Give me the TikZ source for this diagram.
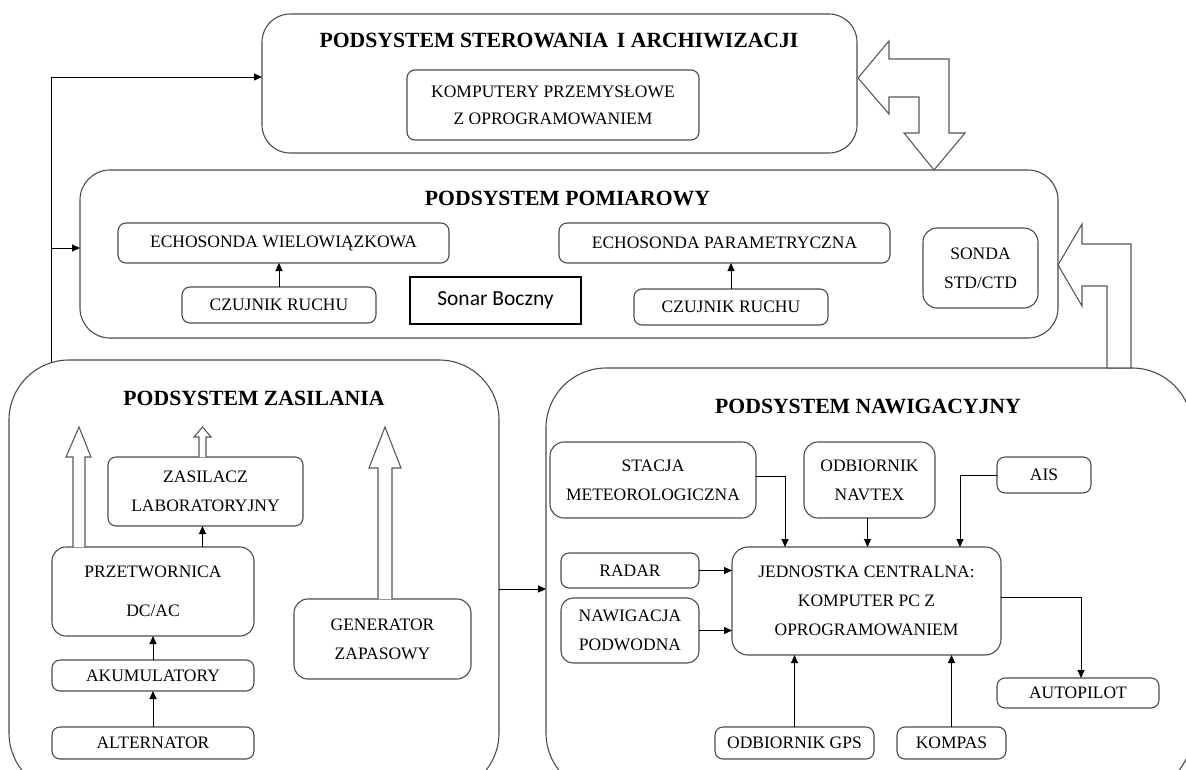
\documentclass[tikz,border=0pt]{standalone}
\usepackage{fontspec}
\setmainfont{Liberation Serif}
\newfontfamily\sonarfont{Carlito}
\usetikzlibrary{arrows.meta,calc}

\newcommand{\boxfont}{\fontsize{17.5}{29}\selectfont}
\newcommand{\ttlfont}{\fontsize{21.7}{26}\selectfont\bfseries}

\begin{document}
\begin{tikzpicture}[x=1pt, y=-1pt, >={Triangle[length=8pt,width=7pt]},
    blk/.style={draw=black!70, line width=1.1pt, rounded corners=8pt, align=center,
        inner sep=0pt, outer sep=0pt, font=\boxfont},
    grp/.style={draw=black!70, line width=1.1pt, inner sep=0pt, outer sep=0pt},
    ttl/.style={anchor=base, font=\ttlfont},
    arr/.style={->, line width=0.95pt, black},
    hollow/.style={draw=black!65, line width=1.1pt, fill=white, line join=miter}]
    % 0. Page area
    \fill[white] (0,0) rectangle (1186,769);
    \clip (0,0) rectangle (1186,769);

    % 1. The four subsystem frames
    \node[grp, rounded corners=28pt, minimum width=595pt, minimum height=139pt] (ster) at (559.5,83.5) {};
    \node[grp, rounded corners=30pt, minimum width=978pt, minimum height=168pt] (pom) at (569,254) {};
    \node[grp, rounded corners=60pt, minimum width=490pt, minimum height=433pt] (zasil) at (254,576.5) {};
    \node[grp, rounded corners=60pt, minimum width=646pt, minimum height=425pt] (nav) at (869,580.5) {};

    \node[ttl] (tster) at (559,47) {PODSYSTEM STEROWANIA\hspace{0.15em} I ARCHIWIZACJI};
    \node[ttl] (tpom) at (567.5,205) {PODSYSTEM POMIAROWY};
    \node[ttl] (tzasil) at (254,405) {PODSYSTEM ZASILANIA};
    \node[ttl] (tnav) at (868,413) {PODSYSTEM NAWIGACYJNY};

    % 2. Control subsystem
    \node[blk, minimum width=292pt, minimum height=70pt] (kom) at (553,105)
        {KOMPUTERY PRZEMYSŁOWE\\[-2pt] Z OPROGRAMOWANIEM};

    % 3. Measurement subsystem
    \node[blk, minimum width=331pt, minimum height=40pt] (echo1) at (283.5,243) {ECHOSONDA WIELOWIĄZKOWA};
    \node[blk, minimum width=194pt, minimum height=36pt] (czuj1) at (279,305) {CZUJNIK RUCHU};
    \node[draw=black, line width=1.1pt, inner sep=0pt, minimum width=171pt, minimum height=47pt,
        font={\sonarfont\fontsize{21.5}{26}\selectfont}] (sonar) at (495.5,300.5) {Sonar Boczny};
    \node[blk, minimum width=331pt, minimum height=40pt] (echo2) at (724.5,243) {ECHOSONDA PARAMETRYCZNA};
    \node[blk, minimum width=194pt, minimum height=36pt] (czuj2) at (731,307) {CZUJNIK RUCHU};
    \node[blk, rounded corners=14pt, minimum width=115pt, minimum height=80pt] (sonda) at (980.5,268) {SONDA\\ STD/CTD};

    \draw[arr] (czuj1.north) -- (czuj1.north |- echo1.south);
    \draw[arr] (czuj2.north) -- (czuj2.north |- echo2.south);

    % 4. Power subsystem
    \node[blk, minimum width=195pt, minimum height=69pt] (zas) at (205.5,491.5) {ZASILACZ\\ LABORATORYJNY};
    \node[blk, rounded corners=14pt, minimum width=202pt, minimum height=89pt] (prz) at (153,591.5) {PRZETWORNICA\\[10pt] DC/AC};
    \node[blk, minimum width=202pt, minimum height=31pt] (aku) at (153,675.5) {AKUMULATORY};
    \node[blk, minimum width=202pt, minimum height=32pt] (alt) at (153,743) {ALTERNATOR};
    \node[blk, rounded corners=14pt, minimum width=177pt, minimum height=80pt] (gen) at (382.5,639) {GENERATOR\\ ZAPASOWY};

    \draw[arr] (alt.north) -- (aku.south);
    \draw[arr] (aku.north) -- (prz.south);
    \draw[arr] ([xshift=-3pt]zas.south |- prz.north) -- ([xshift=-3pt]zas.south);

    % hollow output arrows
    \draw[hollow] (73,547) -- (73,457) -- (66,457) -- (79,427) -- (91,457) -- (85,457) -- (85,547);
    \draw[hollow] (199,457) -- (199,437) -- (194,437) -- (202.5,427) -- (211,437) -- (206,437) -- (206,457);
    \draw[hollow] (378,599) -- (378,468) -- (369,468) -- (385,427) -- (401,468) -- (392,468) -- (392,599);

    % 5. Navigation subsystem
    \node[blk, rounded corners=14pt, minimum width=206pt, minimum height=76pt] (sta) at (653,480) {STACJA\\ METEOROLOGICZNA};
    \node[blk, rounded corners=14pt, minimum width=131pt, minimum height=76pt] (ntx) at (869.5,480) {ODBIORNIK\\ NAVTEX};
    \node[blk, minimum width=94pt, minimum height=36pt] (ais) at (1044,475) {AIS};
    \node[blk, rounded corners=16pt, minimum width=269pt, minimum height=108pt] (cen) at (866.5,601)
        {JEDNOSTKA CENTRALNA:\\ KOMPUTER PC Z\\ OPROGRAMOWANIEM};
    \node[blk, minimum width=138pt, minimum height=35pt] (rad) at (630,570.5) {RADAR};
    \node[blk, rounded corners=12pt, minimum width=138pt, minimum height=65pt] (pod) at (630,630.5) {NAWIGACJA\\ PODWODNA};
    \node[blk, minimum width=159pt, minimum height=32pt] (gps) at (794.5,743) {ODBIORNIK GPS};
    \node[blk, minimum width=109pt, minimum height=32pt] (kmp) at (951.5,743) {KOMPAS};
    \node[blk, minimum width=162pt, minimum height=30pt] (aut) at (1078,693) {AUTOPILOT};

    \draw[arr] ([yshift=4pt]sta.east) -| (cen.north -| 785,0);
    \draw[arr] ([xshift=-2pt]ntx.south) -- ([xshift=-2pt]ntx.south |- cen.north);
    \draw[arr] (ais.west) -| (cen.north -| 960,0);
    \draw[arr] (rad.east) -- (rad.east -| cen.west);
    \draw[arr] (pod.east) -- (pod.east -| cen.west);
    \draw[arr] (gps.north) -- (gps.north |- cen.south);
    \draw[arr] (kmp.north) -- (kmp.north |- cen.south);
    \draw[arr] ([yshift=4pt]cen.east) -| ([xshift=3pt]aut.north);

    % 6. Links between subsystems
    \coordinate (lbus) at (51,362);
    \coordinate (ltap) at (51,248);
    \draw[arr] (lbus) |- (ster.west |- 0,77);
    \draw[arr] (ltap) -- (pom.west |- 0,248);
    \draw[arr] (zasil.east |- 0,589) -- (nav.west |- 0,589);

    % double hollow arrow: control <-> measurement
    \draw[hollow] (858,78) -- (889,41) -- (889,59) -- (949,59) -- (949,133) -- (965,133) -- (934,170)
        -- (904,133) -- (919,133) -- (919,97) -- (889,97) -- (889,114) -- cycle;
    % hollow arrow: navigation -> measurement
    \draw[hollow] (1058,265) -- (1082,224) -- (1082,244) -- (1131,244) -- (1131,368) -- (1107,368)
        -- (1107,286) -- (1082,286) -- (1082,306) -- cycle;
\end{tikzpicture}
\end{document}
